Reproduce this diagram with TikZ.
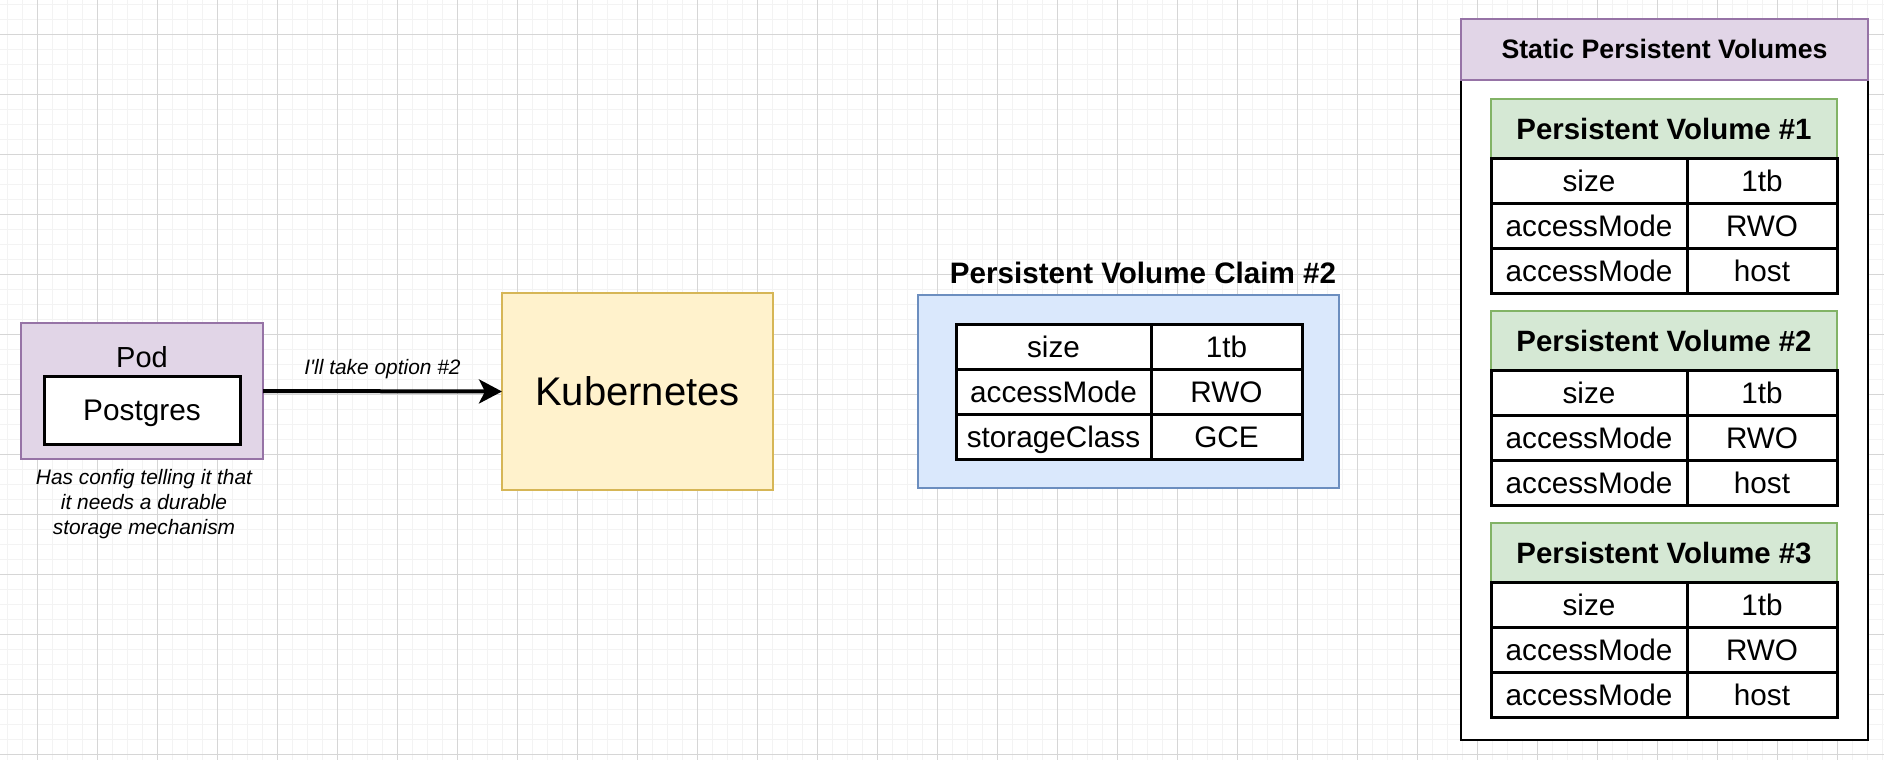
\documentclass[tikz,border=0pt]{standalone}
\usepackage{fontspec}
\setmainfont{Liberation Sans}
\usetikzlibrary{arrows.meta}
\definecolor{purpleFill}{HTML}{E1D5E7}
\definecolor{purpleLine}{HTML}{9673A6}
\definecolor{yellowFill}{HTML}{FFF2CC}
\definecolor{yellowLine}{HTML}{D6B656}
\definecolor{blueFill}{HTML}{DAE8FC}
\definecolor{blueLine}{HTML}{6C8EBF}
\definecolor{greenFill}{HTML}{D5E8D4}
\definecolor{greenLine}{HTML}{82B366}
\definecolor{gridMajor}{HTML}{D6D6D6}
\definecolor{gridMinor}{HTML}{F3F3F3}
\begin{document}
\begin{tikzpicture}[x=1pt,y=-1pt,
  box/.style={draw, rectangle, inner sep=0pt, outer sep=0pt, line width=2.5pt, anchor=north west},
  cell/.style={draw=black, fill=white, rectangle, inner sep=0pt, outer sep=0pt, line width=3pt, anchor=north west, minimum height=45.33pt, text height=21.3pt, text depth=0pt, font=\fontsize{29.7}{35}\selectfont},
  pvhead/.style={box, fill=greenFill, draw=greenLine, text height=21pt, text depth=0pt, font=\bfseries\fontsize{29.4}{35}\selectfont},
  notefont/.style={font=\itshape\fontsize{20.9}{25}\selectfont},
]
\useasboundingbox (0,0) rectangle (1884,760);
\fill[white] (0,0) rectangle (1884,760);
% background grid
\foreach \x in {7.3,22.3,...,1884} \draw[gridMinor, line width=1.5pt] (\x,0) -- (\x,760);
\foreach \y in {4.3,19.3,...,760} \draw[gridMinor, line width=1.5pt] (0,\y) -- (1884,\y);
\foreach \x in {37.3,97.3,...,1884} \draw[gridMajor, line width=1pt] (\x,0) -- (\x,760);
\foreach \y in {34.3,94.3,...,760} \draw[gridMajor, line width=1pt] (0,\y) -- (1884,\y);

% Pod
\node[box, fill=purpleFill, draw=purpleLine, minimum width=242pt, minimum height=136pt] (pod) at (21,323) {};
\node[font=\fontsize{29}{35}\selectfont] (podlabel) at (142,357) {Pod};
\node[box, fill=white, draw=black, line width=3pt, minimum width=196pt, minimum height=68pt,
      text height=21.3pt, text depth=0pt, font=\fontsize{29.8}{35}\selectfont] (postgres) at (44,376) {Postgres};
\node[notefont, align=center] (note) at (144,504) {Has config telling it that\\it needs a durable\\storage mechanism};

% Kubernetes
\node[box, fill=yellowFill, draw=yellowLine, minimum width=271pt, minimum height=197pt,
      font=\fontsize{40}{48}\selectfont] (kube) at (502,293) {Kubernetes};

\draw[line width=4pt, -{Stealth[length=23pt,width=24pt,inset=6pt]}] (pod.east) -- (kube.west)
  node[midway, yshift=22pt, notefont] (arrowlabel) {I\textquotesingle ll take option \#2};

% Persistent Volume Claim
\node[font=\bfseries\fontsize{29.6}{35}\selectfont] (pvctitle) at (1143,273) {Persistent Volume Claim \#2};
\node[box, fill=blueFill, draw=blueLine, minimum width=421pt, minimum height=193pt] (pvc) at (918,295) {};
\foreach \r/\a/\b in {0/size/1tb,1/accessMode/RWO,2/storageClass/GCE}{
  \node[cell, minimum width=195pt] (pvcl\r) at (956,{324+45.33*\r}) {\a};
  \node[cell, minimum width=151pt] (pvcv\r) at (1151,{324+45.33*\r}) {\b};
}

% Static Persistent Volumes
\node[box, fill=white, draw=black, minimum width=407pt, minimum height=721pt] (static) at (1461,19) {};
\node[box, fill=purpleFill, draw=purpleLine, minimum width=407pt, minimum height=61pt,
      text height=19pt, text depth=0pt, font=\bfseries\fontsize{26.7}{32}\selectfont] (statichead) at (1461,19) {Static Persistent Volumes};
\foreach \k/\t in {1/99,2/311,3/523}{
  \node[pvhead, minimum width=346pt, minimum height=59pt] (pv\k) at (1491,\t) {Persistent Volume \#\k};
  \foreach \r/\a/\b in {0/size/1tb,1/accessMode/RWO,2/accessMode/host}{
    \node[cell, minimum width=196pt] (pv\k l\r) at (1491,{\t+59+45.33*\r}) {\a};
    \node[cell, minimum width=150pt] (pv\k v\r) at (1687,{\t+59+45.33*\r}) {\b};
  }
}
\end{tikzpicture}
\end{document}
